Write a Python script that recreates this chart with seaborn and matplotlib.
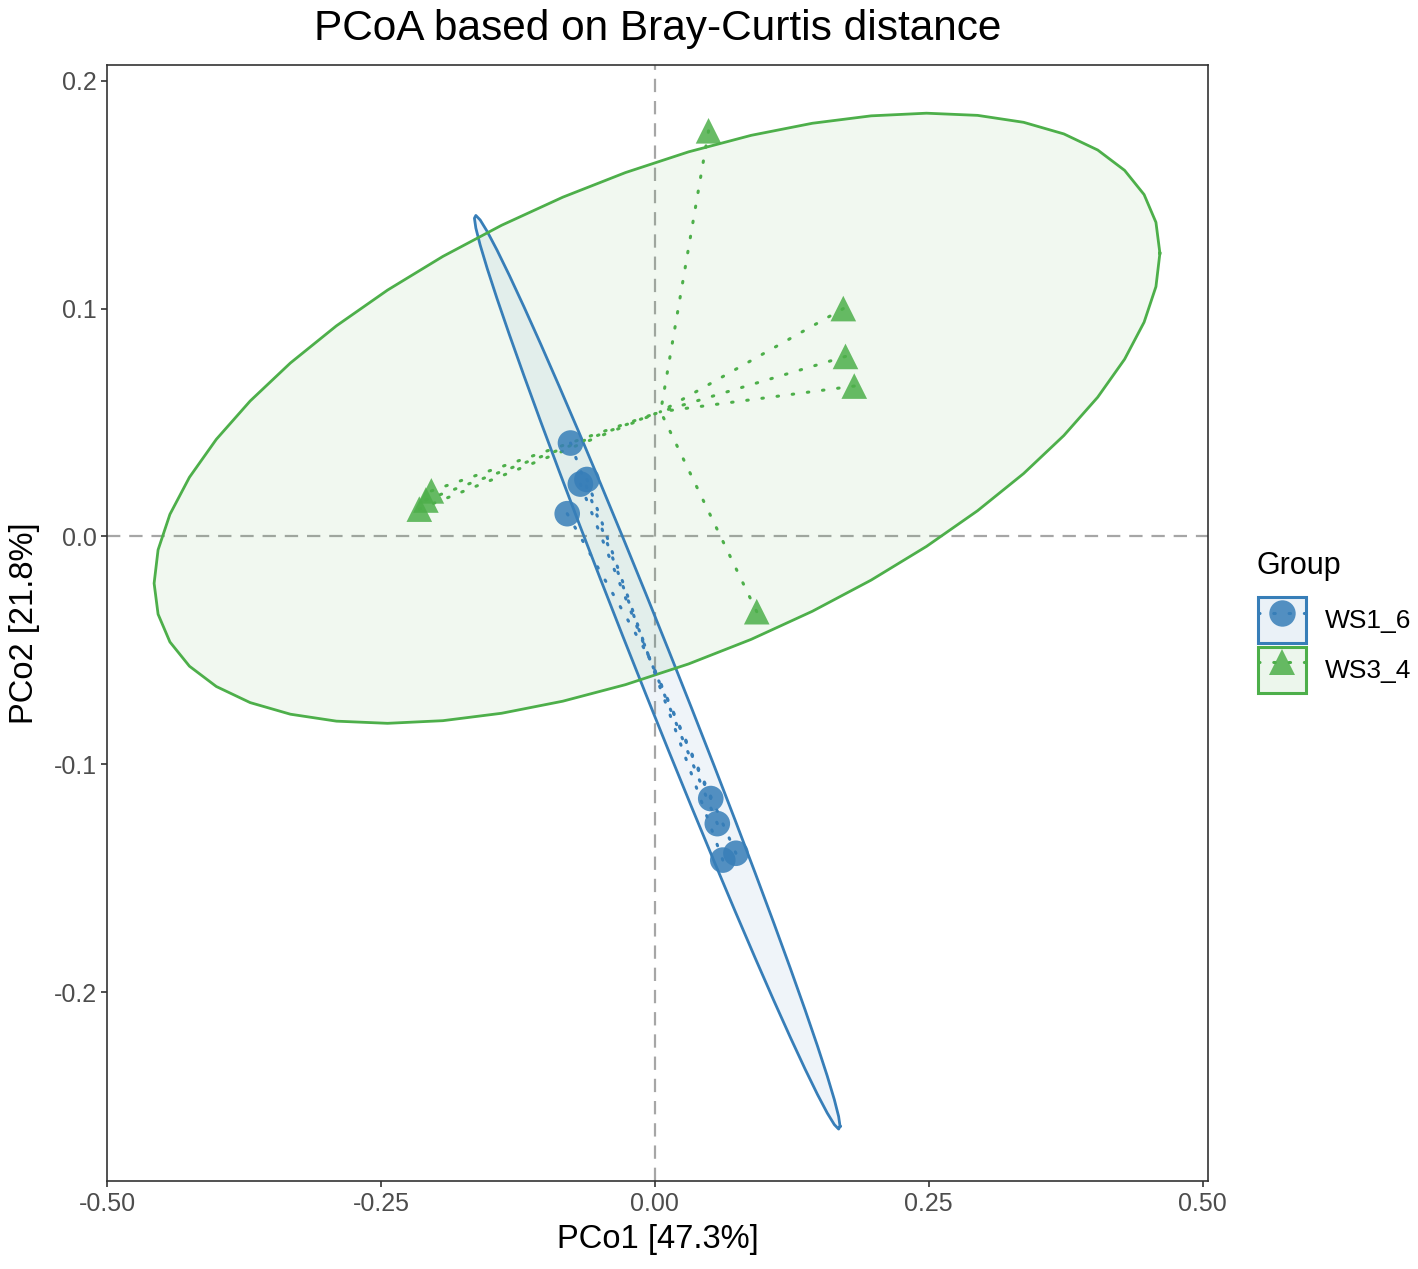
import numpy as np
import pandas as pd
import matplotlib
matplotlib.use('Agg')
import matplotlib.pyplot as plt
import seaborn as sns
from matplotlib.patches import Patch
from matplotlib.lines import Line2D
from matplotlib.legend_handler import HandlerTuple

# dados
grupos = ['WS1_6'] * 8 + ['WS3_4'] * 8
pco1 = [-0.077, -0.068, -0.062, -0.080, 0.051, 0.057, 0.062, 0.074,
        0.049, 0.172, 0.174, 0.182, 0.093, -0.204, -0.209, -0.215]
pco2 = [0.041, 0.023, 0.025, 0.010, -0.115, -0.126, -0.142, -0.139,
        0.178, 0.100, 0.079, 0.066, -0.033, 0.020, 0.016, 0.012]
ordem = ['WS1_6', 'WS3_4']
cores = {'WS1_6': '#377EB8', 'WS3_4': '#4DAF4A'}
marcadores = {'WS1_6': 'o', 'WS3_4': '^'}
xticks = [-0.50, -0.25, 0.00, 0.25, 0.50]
yticks = [-0.2, -0.1, 0.0, 0.1, 0.2]

df = pd.DataFrame({'pco1': pco1, 'pco2': pco2, 'group': grupos})


# covariancia robusta (como MASS::cov.trob usado pelo stat_ellipse)
def cov_trob(X, nu=5, maxit=25, tol=0.01):
    n, p = X.shape
    wt = np.ones(n)
    loc = X.mean(axis=0)
    w = np.sqrt(wt)
    for _ in range(maxit):
        w0 = w
        Xc = X - loc
        sw = np.sqrt(w / w.sum())
        _, d, vt = np.linalg.svd(sw[:, None] * Xc, full_matrices=False)
        wX = Xc @ vt.T @ np.diag(1 / d)
        Q = (wX ** 2).sum(axis=1)
        w = (wt * (nu + p)) / (nu + Q)
        loc = (w[:, None] * X).sum(axis=0) / w.sum()
        if np.all(np.abs(w - w0) < tol):
            break
    sX = np.sqrt(w)[:, None] * Xc
    return loc, sX.T @ sX / wt.sum()


def elipse(X, level=0.9, seg=51):
    n = X.shape[0]
    centro, forma = cov_trob(X)
    d = n - 1
    f = (d / 2) * ((1 - level) ** (-2 / d) - 1)  # qf(level, 2, d)
    raio = np.sqrt(2 * f)
    ang = np.linspace(0, 2 * np.pi, seg)
    circ = np.column_stack([np.cos(ang), np.sin(ang)])
    L = np.linalg.cholesky(forma)
    return centro + raio * circ @ L.T


plt.rcParams['font.family'] = ['Liberation Sans', 'DejaVu Sans']
fig, ax = plt.subplots(figsize=(14.18, 12.69), dpi=100)
fig.subplots_adjust(left=0.0755, right=0.852, top=0.949, bottom=0.069)

ax.axvline(0, color='#a6a6a6', lw=1.6, dashes=(6, 4), zorder=1)
ax.axhline(0, color='#a6a6a6', lw=1.6, dashes=(6, 4), zorder=1)

for g in ordem:
    sub = df[df['group'] == g]
    X = sub[['pco1', 'pco2']].to_numpy()
    el = elipse(X)
    ax.fill(el[:, 0], el[:, 1], color=cores[g], alpha=0.08, lw=0, zorder=2)
    ax.plot(el[:, 0], el[:, 1], color=cores[g], lw=2, zorder=3)
    cx, cy = X.mean(axis=0)
    for x, y in X:
        ax.plot([x, cx], [y, cy], color=cores[g], lw=2.2,
                linestyle=(0, (0.5, 4.5)), dash_capstyle='round', zorder=4)

sns.scatterplot(data=df, x='pco1', y='pco2', hue='group', style='group',
                hue_order=ordem, style_order=ordem, palette=cores,
                markers=marcadores, s=340, alpha=0.85, edgecolor='none',
                legend=False, ax=ax, zorder=5)

ax.set_xlim(-0.50, 0.505)
ax.set_ylim(-0.283, 0.207)
ax.set_xticks(xticks)
ax.set_xticklabels(['-0.50', '-0.25', '0.00', '0.25', '0.50'])
ax.set_yticks(yticks)
ax.set_yticklabels(['-0.2', '-0.1', '0.0', '0.1', '0.2'])
ax.tick_params(colors='#333333', labelcolor='#4d4d4d', labelsize=18,
               length=4, width=1.2)
for s in ax.spines.values():
    s.set_color('#333333')
    s.set_linewidth(1.2)

ax.set_xlabel('PCo1 [47.3%]', fontsize=23.5, labelpad=6)
ax.set_ylabel('PCo2 [21.8%]', fontsize=23.5, labelpad=10)
ax.set_title('PCoA based on Bray-Curtis distance', fontsize=30.5, pad=18)

# legenda
handles = []
for g in ordem:
    caixa = Patch(facecolor=cores[g], alpha=0.1, edgecolor='none')
    borda = Patch(facecolor='none', edgecolor=cores[g], lw=2.2)
    linha = Line2D([0], [0], color=cores[g], lw=2.2, linestyle=(0, (0.5, 4.5)),
                   dash_capstyle='round')
    ponto = Line2D([0], [0], marker=marcadores[g], color=cores[g], ls='none',
                   markersize=19, alpha=0.85, markeredgewidth=0)
    handles.append((caixa, borda, linha, ponto))
fig.text(1257 / 1418, 1 - 566 / 1269, 'Group', fontsize=22, va='center', ha='left')
leg = ax.legend(handles, ordem, handler_map={tuple: HandlerTuple(ndivide=1, pad=0)},
                loc='upper left',
                bbox_to_anchor=(1258 / 1418, 1 - 597 / 1269),
                bbox_transform=fig.transFigure, borderpad=0, borderaxespad=0,
                frameon=False, fontsize=19,
                handlelength=1.8, handleheight=2.3, handletextpad=0.75,
                labelspacing=0.15)

fig.savefig('out.png', dpi=100)
